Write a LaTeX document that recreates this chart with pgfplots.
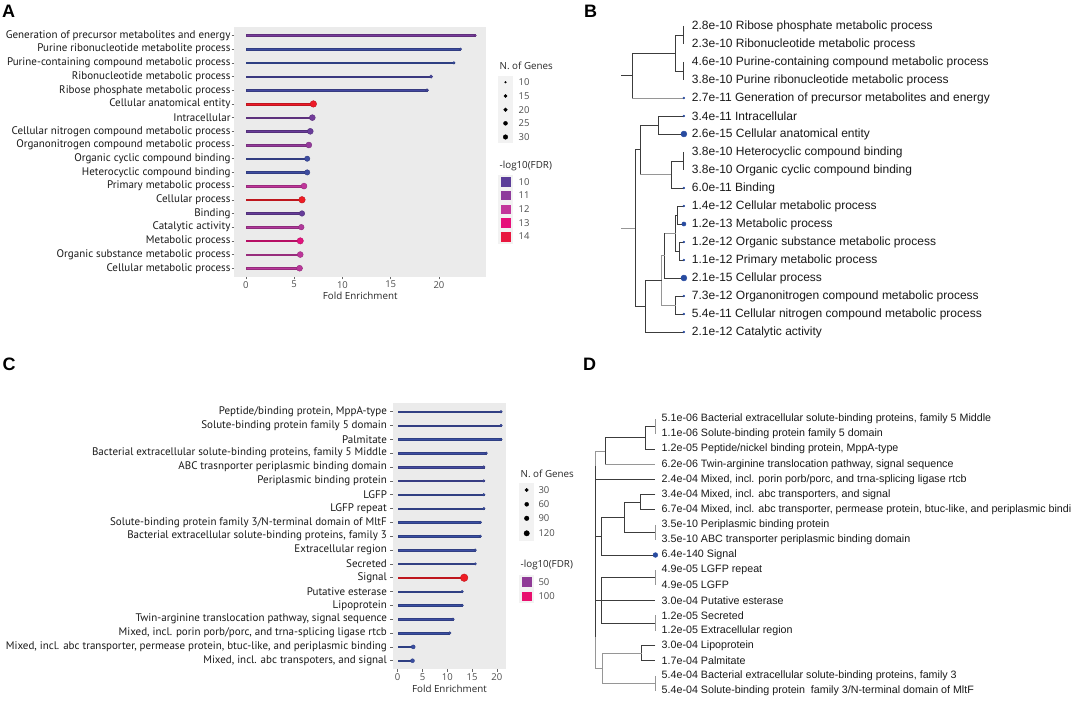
\documentclass[border=0pt]{standalone}
\usepackage{pgfplots}
\pgfplotsset{compat=1.18}
\usepackage{pgfplotstable}
\usepackage{fontspec}
\setmainfont{Liberation Sans}
\newfontfamily\ggfont{PT Sans}
\newfontfamily\axfont{Open Sans}

\definecolor{panelgray}{RGB}{235,235,235}
\definecolor{keygray}{RGB}{242,242,242}
\definecolor{treedark}{RGB}{60,60,60}
\definecolor{treelight}{RGB}{150,150,150}
\definecolor{dotblue}{RGB}{40,75,160}
\definecolor{axgray}{RGB}{77,77,77}
\definecolor{keyA1}{RGB}{91,61,153}
\definecolor{keyA2}{RGB}{142,59,156}
\definecolor{keyA3}{RGB}{194,54,155}
\definecolor{keyA4}{RGB}{230,15,122}
\definecolor{keyA5}{RGB}{232,23,63}
\definecolor{keyC1}{RGB}{143,58,150}
\definecolor{keyC2}{RGB}{232,16,110}

% -log10(FDR) colour scales (positions = value*100 for A, value for C)
\pgfplotsset{
  colormap={mapA}{rgb255(0pt)=(58,79,163) rgb255(66pt)=(91,61,153) rgb255(166pt)=(142,59,156)
    rgb255(266pt)=(194,54,155) rgb255(366pt)=(230,15,122) rgb255(466pt)=(232,23,63) rgb255(534pt)=(238,28,36)},
  colormap={mapC}{rgb255(0pt)=(58,79,163) rgb255(47pt)=(142,59,156) rgb255(97pt)=(230,15,110) rgb255(136pt)=(238,28,36)},
  dk/.style={draw=treedark, line width=0.9bp},
  lt/.style={draw=treelight, line width=0.8bp},
  % lollipop: stem from x=0 to the point (filled strip), then the dot
  lolli/.style={scatter, only marks, mark=*, point meta=\thisrow{fdr},
    visualization depends on={\thisrow{r} \as \rad},
    visualization depends on={\thisrow{x} \as \xv},
    scatter/@pre marker code/.append code={%
      \fill ([yshift=-#1]axis direction cs:-\xv,0) rectangle (0pt,#1);},
    scatter/@pre marker code/.append style={/tikz/mark size=\rad}},
}
\tikzset{
  legtxt/.style={anchor=west, inner sep=0, font=\axfont\fontsize{9.5bp}{11bp}\selectfont, text=axgray},
  legttl/.style={anchor=west, inner sep=0, font=\axfont\fontsize{9.8bp}{11bp}\selectfont, text=black!85},
}

% panel A: y=row, x=fold enrichment, fdr=-log10(FDR), r=dot radius
\pgfplotstableread{
y x fdr r
1 23.75 10.57 1.2
2 22.22 9.42 1.3
3 21.54 9.34 1.3
4 19.18 9.64 1.7
5 18.76 9.55 1.5
6 6.99 14.59 3.3
7 6.88 10.47 3.0
8 6.67 10.27 3.0
9 6.52 11.14 3.0
10 6.35 9.42 2.7
11 6.35 9.42 2.7
12 6.02 11.96 3.0
13 5.81 14.68 3.3
14 5.81 10.22 2.8
15 5.74 11.68 2.8
16 5.63 12.92 3.2
17 5.63 11.92 3.0
18 5.56 11.85 3.0
}\dataA

% panel C
\pgfplotstableread{
y x fdr r
1 20.83 4.92 1.3
2 20.83 5.96 1.3
3 20.83 3.77 1.3
4 17.85 5.29 1.3
5 17.36 9.46 1.3
6 17.36 9.46 1.3
7 17.36 4.31 1.3
8 17.36 4.31 1.3
9 16.67 3.27 1.3
10 16.67 3.27 1.3
11 15.63 4.92 1.3
12 15.63 4.92 1.3
13 13.40 139.19 3.8
14 13.00 3.52 1.3
15 13.00 3.52 1.3
16 11.15 5.21 1.4
17 10.48 3.62 1.4
18 3.13 3.17 2.0
19 2.98 3.47 2.0
}\dataC

\begin{document}
\begin{tikzpicture}
\useasboundingbox (0,0) rectangle (1072bp,701bp);

% ---------------- A ----------------
\begin{axis}[at={(234.2bp,424bp)}, anchor=south west, scale only axis,
  width=252bp, height=250bp,
  xmin=-1.21, xmax=24.89, ymin=0.38, ymax=18.64, y dir=reverse,
  axis background/.style={fill=panelgray}, axis line style={draw=none},
  tick pos=left, tick align=outside, major tick length=2.5bp,
  tick style={draw=black!60, line width=0.5bp},
  ytick={1,...,18},
  yticklabels={Generation of precursor metabolites and energy,
    Purine ribonucleotide metabolite process,
    Purine-containing compound metabolic process,
    Ribonucleotide metabolic process,
    Ribose phosphate metabolic process,
    Cellular anatomical entity,
    Intracellular,
    Cellular nitrogen compound metabolic process,
    Organonitrogen compound metabolic process,
    Organic cyclic compound binding,
    Heterocyclic compound binding,
    Primary metabolic process,
    Cellular process,
    Binding,
    Catalytic activity,
    Metabolic process,
    Organic substance metabolic process,
    Cellular metabolic process},
  xtick={0,5,10,15,20},
  /pgf/number format/assume math mode=true,
  yticklabel style={font=\ggfont\fontsize{11bp}{12bp}\selectfont, text=black!90, inner xsep=1bp},
  xticklabel style={font=\axfont\fontsize{9.5bp}{10bp}\selectfont, text=axgray, inner ysep=1.5bp},
  colormap name=mapA, point meta min=9.34, point meta max=14.68,
  clip=false]
\addplot[lolli=0.8bp] table[x=x, y=y] {\dataA};
\end{axis}

% ---------------- C ----------------
\begin{axis}[at={(392.6bp,31.7bp)}, anchor=south west, scale only axis,
  width=113.6bp, height=266.6bp,
  xmin=-1.03, xmax=21.88, ymin=0.35, ymax=19.62, y dir=reverse,
  axis background/.style={fill=panelgray}, axis line style={draw=none},
  tick pos=left, tick align=outside, major tick length=2.5bp,
  tick style={draw=black!60, line width=0.5bp},
  ytick={1,...,19},
  yticklabels={Peptide/binding protein{,} MppA-type,
    Solute-binding protein family 5 domain,
    Palmitate,
    Bacterial extracellular solute-binding proteins{,} family 5 Middle,
    ABC trasnporter periplasmic binding domain,
    Periplasmic binding protein,
    LGFP,
    LGFP repeat,
    Solute-binding protein family 3/N-terminal domain of MltF,
    Bacterial extracellular solute-binding proteins{,} family 3,
    Extracellular region,
    Secreted,
    Signal,
    Putative esterase,
    Lipoprotein,
    Twin-arginine translocation pathway{,} signal sequence,
    Mixed{,} incl. porin porb/porc{,} and trna-splicing ligase rtcb,
    Mixed{,} incl. abc transporter{,} permease protein{,} btuc-like{,} and periplasmic binding,
    Mixed{,} incl. abc transpoters{,} and signal},
  xtick={0,5,10,15,20},
  /pgf/number format/assume math mode=true,
  yticklabel style={font=\ggfont\fontsize{11bp}{12bp}\selectfont, text=black!90, inner xsep=3bp},
  xticklabel style={font=\axfont\fontsize{9.5bp}{10bp}\selectfont, text=axgray, inner ysep=1.5bp},
  colormap name=mapC, point meta min=3.17, point meta max=139.19,
  clip=false]
\addplot[lolli=0.7bp] table[x=x, y=y] {\dataC};
\end{axis}

% ---------------- canvas: trees, legends, letters (pixel coordinates) ----------------
\begin{axis}[at={(0bp,0bp)}, anchor=south west, scale only axis,
  width=1072bp, height=701bp, xmin=0, xmax=1072, ymin=0, ymax=701, y dir=reverse,
  hide axis, clip=false]

% panel letters
\node[font=\bfseries\fontsize{18bp}{20bp}\selectfont] at (axis cs:8.5,11.7) {A};
\node[font=\bfseries\fontsize{18bp}{20bp}\selectfont] at (axis cs:590.5,11.7) {B};
\node[font=\bfseries\fontsize{18bp}{20bp}\selectfont] at (axis cs:9,364.7) {C};
\node[font=\bfseries\fontsize{18bp}{20bp}\selectfont] at (axis cs:589.7,364.7) {D};

% x titles
\node[font=\axfont\fontsize{9.8bp}{11bp}\selectfont, text=black!85] at (axis cs:360.2,296) {Fold Enrichment};
\node[font=\axfont\fontsize{9.8bp}{11bp}\selectfont, text=black!85] at (axis cs:449.4,689) {Fold Enrichment};

% legend A
\node[legttl] at (axis cs:499.5,66) {N. of Genes};
\fill[keygray] (axis cs:498.3,75.7) rectangle (axis cs:512.7,143.3);
\addplot[only marks, mark=*, black, mark size=0.9] coordinates {(505.5,82.3)};
\addplot[only marks, mark=*, black, mark size=1.5] coordinates {(505.5,96)};
\addplot[only marks, mark=*, black, mark size=1.8] coordinates {(505.5,109.7)};
\addplot[only marks, mark=*, black, mark size=2.0] coordinates {(505.5,123.3)};
\addplot[only marks, mark=*, black, mark size=2.3] coordinates {(505.5,137)};
\node[legtxt] at (axis cs:518.5,82.3) {10};
\node[legtxt] at (axis cs:518.5,96) {15};
\node[legtxt] at (axis cs:518.5,109.7) {20};
\node[legtxt] at (axis cs:518.5,123.3) {25};
\node[legtxt] at (axis cs:518.5,137) {30};
\node[legttl] at (axis cs:499.5,165.7) {-log10(FDR)};
\fill[keygray] (axis cs:498.3,175) rectangle (axis cs:512.7,243.5);
\addplot[only marks, mark=square*, keyA1, mark size=4.3] coordinates {(505.5,181.7)};
\addplot[only marks, mark=square*, keyA2, mark size=4.3] coordinates {(505.5,195.3)};
\addplot[only marks, mark=square*, keyA3, mark size=4.3] coordinates {(505.5,209)};
\addplot[only marks, mark=square*, keyA4, mark size=4.3] coordinates {(505.5,222.7)};
\addplot[only marks, mark=square*, keyA5, mark size=4.3] coordinates {(505.5,236.5)};
\node[legtxt] at (axis cs:518.5,181.7) {10};
\node[legtxt] at (axis cs:518.5,195.3) {11};
\node[legtxt] at (axis cs:518.5,209) {12};
\node[legtxt] at (axis cs:518.5,222.7) {13};
\node[legtxt] at (axis cs:518.5,236.5) {14};

% legend C
\node[legttl] at (axis cs:520.5,474.3) {N. of Genes};
\fill[keygray] (axis cs:519.3,483) rectangle (axis cs:534,541);
\addplot[only marks, mark=*, black, mark size=1.7] coordinates {(526.7,490)};
\addplot[only marks, mark=*, black, mark size=2.0] coordinates {(526.7,504.3)};
\addplot[only marks, mark=*, black, mark size=2.3] coordinates {(526.7,518.3)};
\addplot[only marks, mark=*, black, mark size=2.7] coordinates {(526.7,533.3)};
\node[legtxt] at (axis cs:538.3,490) {30};
\node[legtxt] at (axis cs:538.3,504.3) {60};
\node[legtxt] at (axis cs:538.3,518.3) {90};
\node[legtxt] at (axis cs:538.3,533.3) {120};
\node[legttl] at (axis cs:520.5,565) {-log10(FDR)};
\fill[keygray] (axis cs:519.3,575) rectangle (axis cs:534,603);
\addplot[only marks, mark=square*, keyC1, mark size=4.3] coordinates {(526.7,581.7)};
\addplot[only marks, mark=square*, keyC2, mark size=4.3] coordinates {(526.7,596)};
\node[legtxt] at (axis cs:538.3,581.7) {50};
\node[legtxt] at (axis cs:538.3,596) {100};

% ---- tree B (leaves at x=683.9, rows every 18 px from y=26) ----
\addplot[dk] coordinates {(683.9,26) (683.9,44)};
\addplot[dk] coordinates {(683.9,62) (683.9,80)};
\addplot[dk] coordinates {(683.9,35) (675.1,35) (675.1,71) (683.9,71)};
\addplot[dk] coordinates {(675.1,53) (632.3,53) (632.3,98)};
\addplot[lt] coordinates {(632.3,98) (683.9,98)};
\addplot[dk] coordinates {(621.4,75.5) (632.3,75.5)};
\addplot[dk] coordinates {(683.9,116) (658.8,116) (658.8,134) (683.9,134)};
\addplot[dk] coordinates {(683.9,152) (683.9,170)};
\addplot[dk] coordinates {(683.9,161) (671,161) (671,188) (683.9,188)};
\addplot[dk] coordinates {(658.8,125) (640.4,125) (640.4,174.5)};
\addplot[lt] coordinates {(640.4,174.5) (671,174.5)};
\addplot[dk] coordinates {(683.9,206) (677.4,206) (677.4,224) (683.9,224)};
\addplot[dk] coordinates {(683.9,242) (679.8,242) (679.8,260) (683.9,260)};
\addplot[dk] coordinates {(677.4,215) (675.7,215) (675.7,251) (679.8,251)};
\addplot[lt] coordinates {(675.7,233) (664.9,233)};
\addplot[dk] coordinates {(664.9,233) (664.9,278) (683.9,278)};
\addplot[dk] coordinates {(683.9,296) (675.7,296) (675.7,314) (683.9,314)};
\addplot[lt] coordinates {(664.9,255.5) (661.5,255.5) (661.5,305) (675.7,305)};
\addplot[dk] coordinates {(661.5,280.25) (645.2,280.25) (645.2,332) (683.9,332)};
\addplot[dk] coordinates {(640.4,149.75) (635,149.75) (635,306.1) (645.2,306.1)};
\addplot[lt] coordinates {(621.4,227.9) (635,227.9)};
\addplot[only marks, mark=*, dotblue, mark size=1.0] coordinates {(683.9,98) (683.9,116) (683.9,188) (683.9,206) (683.9,242) (683.9,260) (683.9,296) (683.9,314) (683.9,332)};
\addplot[only marks, mark=*, dotblue, mark size=2.1] coordinates {(683.9,224)};
\addplot[only marks, mark=*, dotblue, mark size=3.0] coordinates {(683.9,134) (683.9,278)};

\begin{scope}[every node/.style={anchor=west, inner sep=0, font=\fontsize{12bp}{14bp}\selectfont, text=black!90}]
\node at (axis cs:691.7,26) {2.8e-10 Ribose phosphate metabolic process};
\node at (axis cs:691.7,44) {2.3e-10 Ribonucleotide metabolic process};
\node at (axis cs:691.7,62) {4.6e-10 Purine-containing compound metabolic process};
\node at (axis cs:691.7,80) {3.8e-10 Purine ribonucleotide metabolic process};
\node at (axis cs:691.7,98) {2.7e-11 Generation of precursor metabolites and energy};
\node at (axis cs:691.7,116) {3.4e-11 Intracellular};
\node at (axis cs:691.7,134) {2.6e-15 Cellular anatomical entity};
\node at (axis cs:691.7,152) {3.8e-10 Heterocyclic compound binding};
\node at (axis cs:691.7,170) {3.8e-10 Organic cyclic compound binding};
\node at (axis cs:691.7,188) {6.0e-11 Binding};
\node at (axis cs:691.7,206) {1.4e-12 Cellular metabolic process};
\node at (axis cs:691.7,224) {1.2e-13 Metabolic process};
\node at (axis cs:691.7,242) {1.2e-12 Organic substance metabolic process};
\node at (axis cs:691.7,260) {1.1e-12 Primary metabolic process};
\node at (axis cs:691.7,278) {2.1e-15 Cellular process};
\node at (axis cs:691.7,296) {7.3e-12 Organonitrogen compound metabolic process};
\node at (axis cs:691.7,314) {5.4e-11 Cellular nitrogen compound metabolic process};
\node at (axis cs:691.7,332) {2.1e-12 Catalytic activity};
\end{scope}

% ---- tree D (leaves at x=655.4, rows every 15.11 px from y=419) ----
\addplot[lt] coordinates {(655.4,419) (655.4,434.1)};
\addplot[dk] coordinates {(655.4,426.55) (645.9,426.55) (645.9,449.2) (655.4,449.2)};
\addplot[dk] coordinates {(645.9,437.9) (605.2,437.9) (605.2,464.3)};
\addplot[lt] coordinates {(605.2,464.3) (655.4,464.3)};
\addplot[dk] coordinates {(655.4,494.6) (640.4,494.6) (640.4,509.7) (655.4,509.7)};
\addplot[lt] coordinates {(655.4,524.8) (655.4,539.9)};
\addplot[dk] coordinates {(640.4,502.1) (624.8,502.1) (624.8,532.3) (655.4,532.3)};
\addplot[dk] coordinates {(624.8,517.2) (601.1,517.2) (601.1,555) (655.4,555)};
\addplot[lt] coordinates {(655.4,570.1) (655.4,585.2)};
\addplot[lt] coordinates {(655.4,615.4) (655.4,630.5)};
\addplot[dk] coordinates {(655.4,577.65) (601.8,577.65) (601.8,622.95) (655.4,622.95)};
\addplot[dk] coordinates {(601.8,600.3) (655.4,600.3)};
\addplot[dk] coordinates {(655.4,645.7) (641.8,645.7) (641.8,660.8) (655.4,660.8)};
\addplot[lt] coordinates {(655.4,675.9) (655.4,691)};
\addplot[lt] coordinates {(641.8,653.25) (602.8,653.25) (602.8,683.45) (655.4,683.45)};
\addplot[lt] coordinates {(605.2,451.1) (595.5,451.1) (595.5,668.35) (602.8,668.35)};
\addplot[dk, line width=1.2bp] coordinates {(595.5,466) (595.5,636.7)};
\addplot[dk] coordinates {(595.5,479.4) (655.4,479.4)};
\addplot[dk] coordinates {(595.5,536.1) (601.1,536.1)};
\addplot[dk] coordinates {(595.5,600.3) (601.8,600.3)};
\addplot[only marks, mark=*, dotblue, mark size=2.4] coordinates {(655.4,555)};

\begin{scope}[every node/.style={anchor=west, inner sep=0, font=\fontsize{10.7bp}{12bp}\selectfont, text=black!90}]
\node at (axis cs:661.5,419) {5.1e-06 Bacterial extracellular solute-binding proteins, family 5 Middle};
\node at (axis cs:661.5,434.1) {1.1e-06 Solute-binding protein family 5 domain};
\node at (axis cs:661.5,449.2) {1.2e-05 Peptide/nickel binding protein, MppA-type};
\node at (axis cs:661.5,464.3) {6.2e-06 Twin-arginine translocation pathway, signal sequence};
\node at (axis cs:661.5,479.4) {2.4e-04 Mixed, incl. porin porb/porc, and trna-splicing ligase rtcb};
\node at (axis cs:661.5,494.6) {3.4e-04 Mixed, incl. abc transporters, and signal};
\node at (axis cs:661.5,509.7) {6.7e-04 Mixed, incl. abc transporter, permease protein, btuc-like, and periplasmic bindi};
\node at (axis cs:661.5,524.8) {3.5e-10 Periplasmic binding protein};
\node at (axis cs:661.5,539.9) {3.5e-10 ABC transporter periplasmic binding domain};
\node at (axis cs:661.5,555) {6.4e-140 Signal};
\node at (axis cs:661.5,570.1) {4.9e-05 LGFP repeat};
\node at (axis cs:661.5,585.2) {4.9e-05 LGFP};
\node at (axis cs:661.5,600.3) {3.0e-04 Putative esterase};
\node at (axis cs:661.5,615.4) {1.2e-05 Secreted};
\node at (axis cs:661.5,630.5) {1.2e-05 Extracellular region};
\node at (axis cs:661.5,645.7) {3.0e-04 Lipoprotein};
\node at (axis cs:661.5,660.8) {1.7e-04 Palmitate};
\node at (axis cs:661.5,675.9) {5.4e-04 Bacterial extracellular solute-binding proteins, family 3};
\node at (axis cs:661.5,691) {5.4e-04 Solute-binding protein\ \ family 3/N-terminal domain of MltF};
\end{scope}
\end{axis}
\end{tikzpicture}
\end{document}
